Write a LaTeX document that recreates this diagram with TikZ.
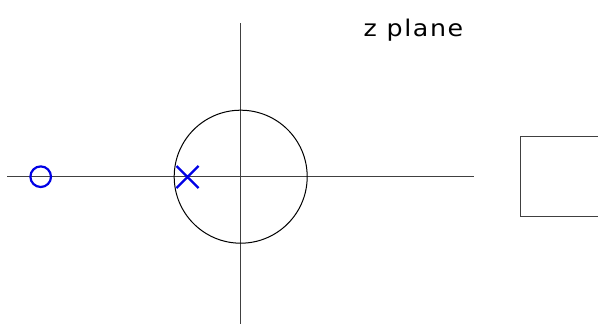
\documentclass[tikz,border=0pt]{standalone}
\usepackage{fontspec}
\newfontfamily\labelfont[FakeStretch=1.1,LetterSpace=7]{DejaVu Sans}
\begin{document}
\begin{tikzpicture}[x=1pt,y=-1pt,
  axis/.style={draw=black!75,line width=1.3pt},
  unitcircle/.style={draw=black,line width=1pt},
  marker/.style={draw=blue!90!black,line width=2.2pt},
  box/.style={draw=black!75,line width=1.3pt}]
\useasboundingbox (0,0) rectangle (598,324);
\coordinate (o) at (240.7,176.7);
\coordinate (hl) at (7,176.7);
\coordinate (hr) at (474.3,176.7);
\coordinate (vt) at (240.7,23);
\coordinate (vb) at (240.7,330);
\draw[axis] (hl) -- (hr);
\draw[axis] (vt) -- (vb);
\draw[unitcircle] (o) circle[radius=66.5];
\coordinate (zero) at (40.7,176.7);
\draw[marker] (zero) circle[radius=10.3];
\coordinate (pole) at (187.5,177);
\draw[marker] ([shift={(-11,-11)}]pole) -- ([shift={(11,11)}]pole)
              ([shift={(-11,11)}]pole) -- ([shift={(11,-11)}]pole);
\node[inner sep=0pt,anchor=base west,font=\labelfont\fontsize{23}{27}\selectfont] (title) at (363.5,36.7) {z plane};
\coordinate (b1) at (620,136.7);
\coordinate (b2) at (520.7,216.7);
\draw[box] (b1) -| (b2) -- (620,216.7);
\end{tikzpicture}
\end{document}
